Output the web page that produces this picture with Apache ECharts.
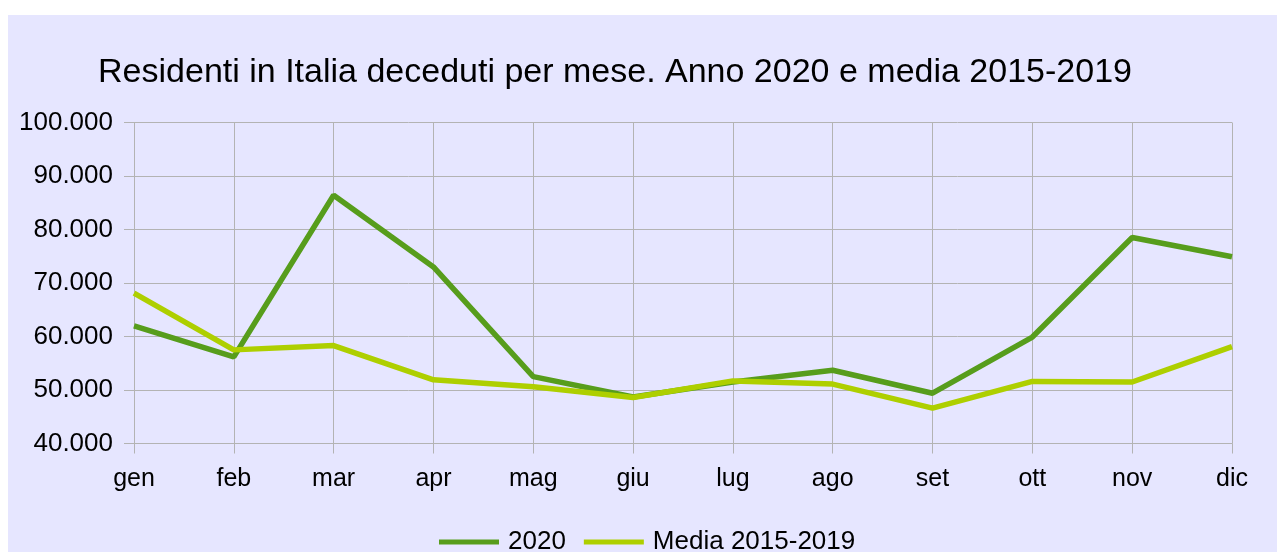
<!DOCTYPE html>
<html>
<head>
<meta charset="utf-8">
<script src="https://cdn.jsdelivr.net/npm/echarts@6/dist/echarts.min.js"></script>
<style>
  html, body { margin: 0; padding: 0; background: #fff; }
  #chart { position: absolute; left: 8px; top: 15px; width: 1269px; height: 537px; background: #e6e6ff; }
</style>
</head>
<body>
<div id="chart"></div>
<script>
const mesi = ['gen', 'feb', 'mar', 'apr', 'mag', 'giu', 'lug', 'ago', 'set', 'ott', 'nov', 'dic'];
const anno2020 = [62000, 56200, 86400, 73000, 52500, 48700, 51500, 53700, 49400, 59900, 78500, 74900];
const media1519 = [68100, 57500, 58300, 51900, 50600, 48600, 51700, 51100, 46600, 51600, 51500, 58100];

const chart = echarts.init(document.getElementById('chart'));
const grigio = '#b3b3b3';
const font = 'Liberation Sans, Arial, sans-serif';

chart.setOption({
  animation: false,
  textStyle: { fontFamily: font },
  title: {
    text: 'Residenti in Italia deceduti per mese. Anno 2020 e media 2015-2019',
    left: 607,
    textAlign: 'center',
    top: 41,
    padding: 0,
    textStyle: { fontSize: 34, fontWeight: 'normal', color: '#000', fontFamily: font }
  },
  legend: {
    top: 514,
    left: 431,
    padding: 0,
    icon: 'rect',
    itemWidth: 60,
    itemHeight: 5,
    itemGap: 18,
    textStyle: { fontSize: 26, color: '#000', fontFamily: font, padding: [0, 0, 0, 4] },
    data: ['2020', 'Media 2015-2019']
  },
  grid: { left: 126, right: 45, top: 107.5, bottom: 108.5, containLabel: false },
  xAxis: {
    type: 'category',
    data: mesi,
    boundaryGap: false,
    axisLine: { show: true, lineStyle: { color: grigio, width: 1 } },
    axisTick: { show: true, length: 10, lineStyle: { color: grigio } },
    splitLine: { show: true, lineStyle: { color: grigio, width: 1 } },
    axisLabel: { fontSize: 25, color: '#000', margin: 23, fontFamily: font }
  },
  yAxis: {
    type: 'value',
    min: 40000,
    max: 100000,
    interval: 10000,
    axisLine: { show: true, lineStyle: { color: grigio, width: 1 } },
    axisTick: { show: true, length: 10, lineStyle: { color: grigio } },
    splitLine: { show: true, lineStyle: { color: grigio, width: 1 } },
    axisLabel: {
      fontSize: 26, color: '#000', margin: 21, fontFamily: font,
      formatter: v => (v / 1000) + '.000'
    }
  },
  series: [
    {
      name: '2020', type: 'line', data: anno2020, showSymbol: false, symbol: 'none',
      itemStyle: { color: '#579d1c' },
      lineStyle: { color: '#579d1c', width: 5.5 }
    },
    {
      name: 'Media 2015-2019', type: 'line', data: media1519, showSymbol: false, symbol: 'none',
      itemStyle: { color: '#aecf00' },
      lineStyle: { color: '#aecf00', width: 5.5 }
    }
  ]
});
window.addEventListener('resize', () => chart.resize());
</script>
</body>
</html>
